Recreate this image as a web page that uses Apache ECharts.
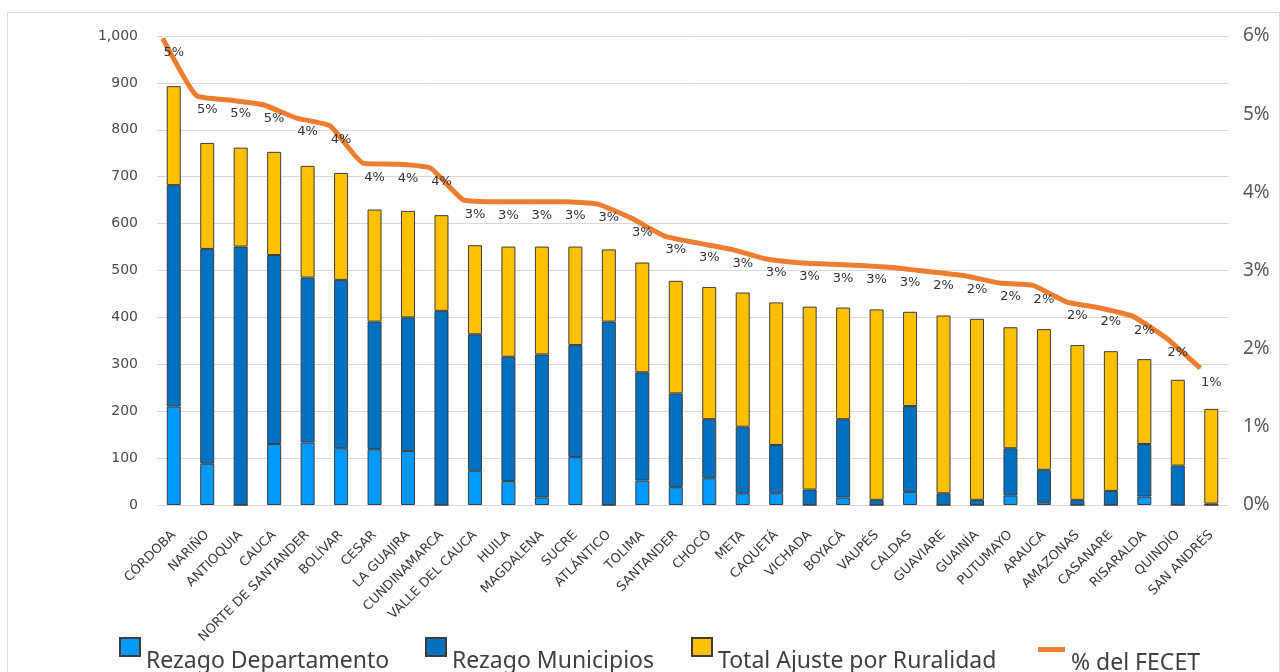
<!DOCTYPE html>
<html>
<head>
<meta charset="utf-8">
<script src="https://cdn.jsdelivr.net/npm/echarts@6/dist/echarts.min.js"></script>
<style>
  html, body { margin: 0; padding: 0; background: #fff; }
  #chart { width: 1280px; height: 672px; }
</style>
</head>
<body>
<div id="chart"></div>
<script>
const departamentos = [
  "CÓRDOBA", "NARIÑO", "ANTIOQUIA", "CAUCA", "NORTE DE SANTANDER", "BOLÍVAR", "CESAR", "LA GUAJIRA",
  "CUNDINAMARCA", "VALLE DEL CAUCA", "HUILA", "MAGDALENA", "SUCRE", "ATLÁNTICO", "TOLIMA", "SANTANDER",
  "CHOCÓ", "META", "CAQUETÁ", "VICHADA", "BOYACÁ", "VAUPÉS", "CALDAS", "GUAVIARE",
  "GUAINÍA", "PUTUMAYO", "ARAUCA", "AMAZONAS", "CASANARE", "RISARALDA", "QUINDÍO", "SAN ANDRÉS"
]
const rezagoDepartamento = [210, 88, 0, 130, 133, 121, 119, 115, 0, 73, 51, 16, 102, 0, 52, 38, 57, 25, 25, 0, 16, 0, 28, 0, 0, 20, 6, 0, 0, 18, 0, 0]
const rezagoMunicipios = [472, 458, 551, 403, 352, 359, 272, 285, 414, 291, 265, 305, 239, 391, 231, 200, 126, 142, 103, 33, 167, 11, 183, 25, 11, 101, 69, 11, 30, 112, 84, 3]
const ajusteRuralidad = [211, 226, 211, 220, 238, 228, 239, 227, 204, 190, 235, 230, 210, 154, 234, 240, 282, 286, 304, 390, 238, 406, 201, 379, 386, 258, 300, 330, 298, 181, 183, 202]
// % del FECET (eje derecho)
const pctFecet = [5.97, 5.24, 5.18, 5.12, 4.95, 4.85, 4.37, 4.36, 4.31, 3.90, 3.88, 3.88, 3.88, 3.85, 3.67, 3.44,
  3.35, 3.27, 3.15, 3.10, 3.08, 3.06, 3.03, 2.98, 2.93, 2.84, 2.81, 2.60, 2.52, 2.41, 2.13, 1.75]
const leftTicks = { min: 0, max: 1000, interval: 100 }
const rightTicks = { min: 0, max: 6, interval: 1 }

const chart = echarts.init(document.getElementById("chart"))

const barBorder = { borderColor: "#3d3d3d", borderWidth: 1 }
function barSeries(name, data, color) {
  return {
    name, type: "bar", stack: "total", data,
    xAxisIndex: 0, yAxisIndex: 0,
    barWidth: 14,
    itemStyle: { color, ...barBorder },
    emphasis: { disabled: true },
  }
}

// el texto de la leyenda va más abajo que el icono, como en el original
function legendItem(name, left, top, icon, w, h) {
  return {
    data: [name], left, top, padding: 0,
    icon, itemWidth: w, itemHeight: h,
    selectedMode: false,
    formatter: "{t|{name}}",
    textStyle: {
      rich: { t: { fontFamily: "Noto Sans", fontSize: 23, color: "#404040", padding: [28, 0, 0, 1] } },
    },
  }
}

const option = {
  animation: false,
  backgroundColor: "#fff",
  graphic: [{
    type: "rect", left: 5, top: 10, silent: true,
    shape: { width: 1272, height: 700 },
    style: { fill: "none", stroke: "#dcdcdc", lineWidth: 1 },
  }],
  // grid 0: barras, grid 1: línea (desplazada a la izquierda como en Excel)
  grid: [
    { left: 157, right: 52, top: 36, bottom: 167 },
    { left: 146, right: 63, top: 36, bottom: 167 },
  ],
  legend: [
    legendItem("Rezago Departamento", 119, 637, "rect", 20, 18),
    legendItem("Rezago Municipios", 425, 637, "rect", 20, 18),
    legendItem("Total Ajuste por Ruralidad", 691, 637, "rect", 20, 18),
    legendItem("% del FECET", 1038, 647, "rect", 27, 5),
  ],
  xAxis: [
    {
      type: "category", gridIndex: 0, data: departamentos,
      axisLine: { show: false }, axisTick: { show: false },
      axisLabel: { interval: 0, rotate: 45, margin: 28, fontFamily: "DejaVu Sans", fontSize: 13, color: "#3a3a3a" },
    },
    { type: "category", gridIndex: 1, data: departamentos, show: false },
  ],
  yAxis: [
    {
      type: "value", gridIndex: 0, ...leftTicks,
      axisLine: { show: false }, axisTick: { show: false },
      axisLabel: {
        margin: 19, fontFamily: "DejaVu Sans", fontSize: 14, color: "#4a4a4a",
        formatter: v => v.toLocaleString("en-US"),
      },
      splitLine: { lineStyle: { color: "#d9d9d9", width: 1 } },
    },
    {
      type: "value", gridIndex: 1, position: "right", ...rightTicks,
      axisLine: { show: false }, axisTick: { show: false },
      axisLabel: { margin: 26, fontFamily: "Noto Sans", fontSize: 19, color: "#595959", formatter: "{value}%" },
      splitLine: { show: false },
    },
  ],
  series: [
    barSeries("Rezago Departamento", rezagoDepartamento, "#0099FF"),
    barSeries("Rezago Municipios", rezagoMunicipios, "#0070C0"),
    barSeries("Total Ajuste por Ruralidad", ajusteRuralidad, "#FFC000"),
    {
      name: "% del FECET", type: "line", data: pctFecet,
      xAxisIndex: 1, yAxisIndex: 1,
      smooth: 0.15, symbol: "circle", symbolSize: 1, showSymbol: true,
      itemStyle: { color: "#ED7D31" },
      lineStyle: { color: "#ED7D31", width: 5 },
      label: {
        show: true, position: "bottom", distance: 7,
        fontFamily: "DejaVu Sans", fontSize: 13, color: "#333",
        formatter: p => Math.floor(p.value) + "%",
      },
      // etiquetas centradas sobre las barras, no sobre la línea
      labelLayout: { hideOverlap: false, dx: 11 },
      emphasis: { disabled: true },
      z: 5,
    },
  ],
}

chart.setOption(option)
window.addEventListener("resize", () => chart.resize())
</script>
</body>
</html>
